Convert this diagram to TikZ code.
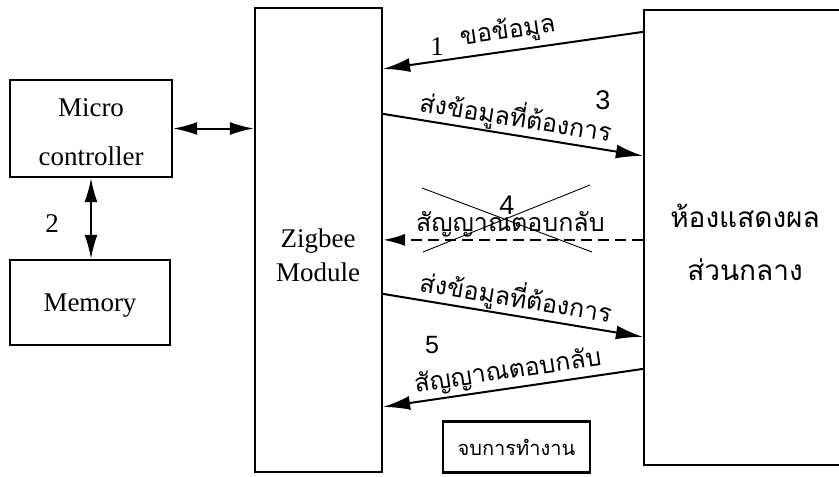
\documentclass[tikz,border=0pt]{standalone}
\usepackage{fontspec}
\setmainfont{Liberation Serif}
\newfontfamily\thai[Script=Thai]{Loma}
\newfontfamily\arial{Liberation Sans}
\usetikzlibrary{arrows.meta,calc}
\begin{document}
\begin{tikzpicture}[x=1pt,y=-1pt,
  box/.style={draw,line width=2.2pt,inner sep=0pt},
  arr/.style={line width=2pt,-{Latex[length=27pt,width=14pt]}},
  darr/.style={line width=2pt,{Latex[length=24pt,width=13pt]}-{Latex[length=24pt,width=13pt]}},
  lat/.style={font=\fontsize{27}{32}\selectfont,inner sep=0pt},
  num/.style={font=\arial\fontsize{27}{32}\selectfont,inner sep=0pt},
  th/.style={font=\thai\fontsize{25}{30}\selectfont,inner sep=1pt},
  cross/.style={line width=0.9pt}
]
\useasboundingbox (0,0) rectangle (839,477);
\clip (0,0) rectangle (839,477);
\fill[white] (0,0) rectangle (839,477);

% boxes
\node[box,minimum width=162pt,minimum height=97pt] (mc) at (91,128.5) {};
\node[box,minimum width=160pt,minimum height=85pt] (mem) at (90,302.5) {};
\node[box,minimum width=127pt,minimum height=464pt] (zig) at (318.5,240) {};
\node[box,minimum width=202pt,minimum height=455pt] (disp) at (745,237.5) {};
\node[box,minimum width=147pt,minimum height=51pt] (end) at (516.5,447)
  {\thai\fontsize{20}{24}\selectfont จบการทำงาน};

% box texts
\node[lat] (t1) at (91,108) {Micro};
\node[lat] (t2) at (91,156) {controller};
\node[lat] (t3) at (90,306) {Memory};
\node[lat] (t4) at (318,241) {Zigbee};
\node[lat] (t5) at (318,272) {Module};
\node[th,font=\thai\fontsize{28}{32}\selectfont] (t6) at (745,216) {ห้องแสดงผล};
\node[th,font=\thai\fontsize{28}{32}\selectfont] (t7) at (745,270) {ส่วนกลาง};

% connector points
\coordinate (d1) at ($(disp.north west)+(0,23)$);
\coordinate (z1) at ($(zig.north east)+(0,62)$);
\coordinate (z3) at ($(zig.north east)+(0,107)$);
\coordinate (d3) at ($(disp.north west)+(0,147)$);
\coordinate (d4) at ($(disp.north west)+(0,231)$);
\coordinate (z4) at ($(zig.north east)+(0,233)$);
\coordinate (z5) at ($(zig.north east)+(0,287)$);
\coordinate (d5) at ($(disp.north west)+(0,328)$);
\coordinate (d6) at ($(disp.north west)+(0,360)$);
\coordinate (z6) at ($(zig.north east)+(0,400)$);

% connectors
\draw[darr] (mc.east) -- (zig.west |- mc.east);
\draw[darr] (mc.south) -- (mc.south |- mem.north);
\draw[arr] (d1) -- node[th,sloped,above=4pt,pos=0.51] (l1) {ขอข้อมูล} (z1);
\draw[arr] (z3) -- node[th,sloped,above=0pt,pos=0.5] (l3) {ส่งข้อมูลที่ต้องการ} (d3);
\draw[line width=2pt,dash pattern=on 11pt off 6pt,-{Latex[length=22pt,width=12pt]}] (d4) -- node[th,above=1pt,pos=0.51] (l4) {สัญญาณตอบกลับ} (z4);
\draw[arr] (z5) -- node[th,sloped,above=0pt,pos=0.5] (l5) {ส่งข้อมูลที่ต้องการ} (d5);
\draw[arr] (d6) -- node[th,sloped,above=2pt,pos=0.51] (l6) {สัญญาณตอบกลับ} (z6);

% cross over step 4
\draw[cross] (422,188) -- (592,252);
\draw[cross] (590,185) -- (423,252);

% step numbers
\node[lat,font=\fontsize{27}{30}\selectfont] (n1) at (437,47) {1};
\node[lat,font=\fontsize{27}{30}\selectfont] (n2) at (52,224) {2};
\node[num] (n3) at (603,100) {3};
\node[num] (n4) at (507,205) {4};
\node[num,font=\arial\fontsize{25}{30}\selectfont] (n5) at (432,345) {5};
\end{tikzpicture}
\end{document}
